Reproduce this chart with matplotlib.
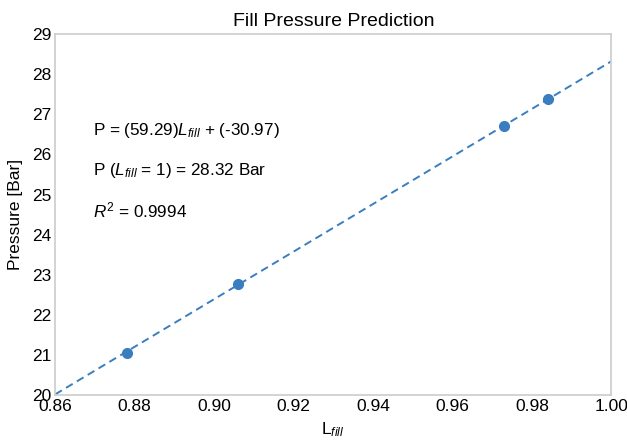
import numpy as np
import matplotlib.pyplot as plt

plt.rcParams['font.family'] = ['Liberation Sans', 'DejaVu Sans']
plt.rcParams['mathtext.fontset'] = 'custom'
plt.rcParams['mathtext.it'] = 'Liberation Sans:italic'
plt.rcParams['mathtext.rm'] = 'Liberation Sans'

# measured points
l_fill = [0.878, 0.906, 0.973, 0.984]
pressure = [21.05, 22.78, 26.70, 27.38]

# fit
slope = 59.29
intercept = -30.97
r2 = 0.9994

x_fit = np.linspace(0.86, 1.00, 50)
y_fit = slope * x_fit + intercept

color = '#3a7ebf'

fig = plt.figure(figsize=(6.27, 4.42), dpi=100)
ax = fig.add_axes([0.088, 0.106, 0.887, 0.817])

ax.plot(x_fit, y_fit, '--', color=color, linewidth=1.4, dashes=(4, 2.5))
ax.plot(l_fill, pressure, 'o', color=color, markersize=7)

ax.set_xlim(0.86, 1.00)
ax.set_ylim(20, 29)
ax.set_xticks(np.arange(0.86, 1.001, 0.02))
ax.set_xticklabels(['%.2f' % v for v in np.arange(0.86, 1.001, 0.02)])
ax.set_yticks(range(20, 30))
ax.tick_params(length=0, labelsize=12.5, pad=3)
for s in ax.spines.values():
    s.set_color('#cccccc')
    s.set_linewidth(1.2)

ax.set_title('Fill Pressure Prediction', fontsize=14, pad=6)
ax.set_xlabel(r'L$_{fill}$', fontsize=12.5, labelpad=4)
ax.set_ylabel('Pressure [Bar]', fontsize=12.5, labelpad=6)

ax.text(0.8695, 26.6, r'P = (%.2f)$L_{fill}$ + (%.2f)' % (slope, intercept), fontsize=12.3, va='center')
ax.text(0.8695, 25.6, r'P ($L_{fill}$ = 1) = %.2f Bar' % (slope + intercept), fontsize=12.3, va='center')
ax.text(0.8695, 24.6, r'$R^2$ = %.4f' % r2, fontsize=12.3, va='center')

fig.savefig('out.png', dpi=100)
